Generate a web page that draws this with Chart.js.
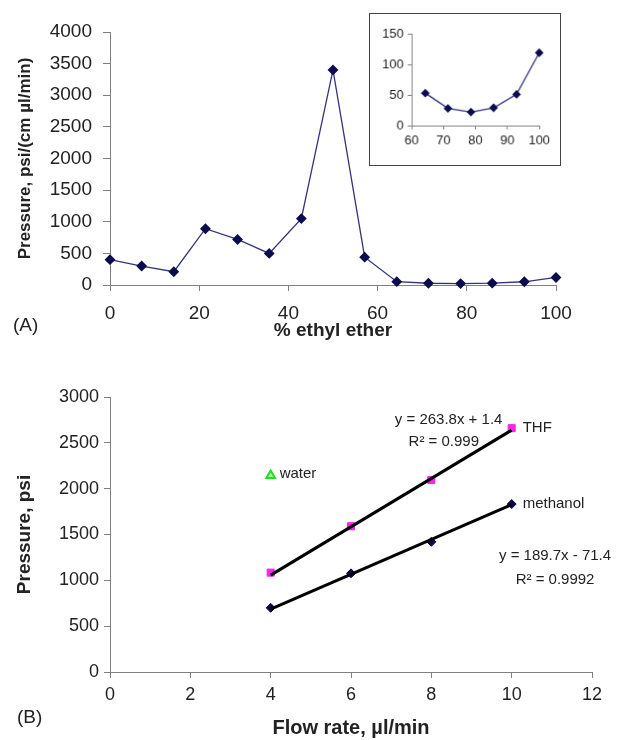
<!DOCTYPE html>
<html>
<head>
<meta charset="utf-8">
<script src="https://cdn.jsdelivr.net/npm/chart.js@4.4.1/dist/chart.umd.min.js"></script>
<style>
  body { margin: 0; background: #fff; }
  #page { position: relative; width: 617px; height: 740px; background: #fff; font-family: "Liberation Sans", Arial, sans-serif; }
  canvas { position: absolute; }
  #inset { left: 369px; top: 13px; border: 1px solid #444; background: #fff; }
  .panel { position: absolute; font-size: 19px; color: #222; }
</style>
</head>
<body>
<div id="page">
  <canvas id="topChart" width="617" height="345" style="left:0;top:0"></canvas>
  <canvas id="inset" width="192" height="153"></canvas>
  <canvas id="bottomChart" width="617" height="395" style="left:0;top:345px"></canvas>
  <div class="panel" style="left:13px;top:314px">(A)</div>
  <div class="panel" style="left:17px;top:706px">(B)</div>
</div>
<script>
// Panel A data
const etherPct = [0, 7.1, 14.3, 21.4, 28.6, 35.7, 42.9, 50, 57.1, 64.3, 71.4, 78.6, 85.7, 92.9, 100];
const pressureNorm = [400, 300, 210, 890, 720, 500, 1050, 3400, 440, 53, 28, 22, 29, 51, 119];
// inset = last six points
const insetPct = [64.3, 71.4, 78.6, 85.7, 92.9, 100];
const insetPressure = [53, 28, 22, 29, 51, 119];

// Panel B data
const flowRate = [4, 6, 8, 10];
const thfPressure = [1084, 1590, 2095, 2660];
const methanolPressure = [700, 1076, 1420, 1832];
const waterFlow = [4];
const waterPressure = [2144];
// trend line ends (y = 263.8x + 1.4, y = 189.7x - 71.4)
const trendFlow = [4, 10];
const thfTrend = [1057, 2639];
const methanolTrend = [687, 1826];

const FONT = "'Liberation Sans', Arial, sans-serif";
const axisGray = "#808080";
const textCol = "#222";
const lineBlue = "#33337f";
const markNavy = "#0b0b4f";

function pts(xs, ys) {
  return xs.map((x, i) => ({ x: x, y: ys[i] }));
}

const plain = v => String(v);

function axis(opts) {
  return Object.assign({
    type: "linear",
    border: { display: true, color: axisGray, width: 1 },
    grid: { drawOnChartArea: false, drawTicks: true, color: axisGray }
  }, opts);
}

function tick(step, size, pad) {
  return { stepSize: step, color: textCol, padding: pad, callback: plain,
    font: { family: FONT, size: size } };
}

// ---- Panel A main chart
new Chart(document.getElementById("topChart"), {
  type: "line",
  data: {
    datasets: [{
      data: pts(etherPct, pressureNorm),
      borderColor: lineBlue,
      borderWidth: 1.3,
      pointStyle: "rectRot",
      pointRadius: 4.5,
      pointBackgroundColor: markNavy,
      pointBorderColor: markNavy,
      tension: 0,
      clip: false
    }]
  },
  options: {
    responsive: false,
    animation: false,
    devicePixelRatio: 1,
    layout: { padding: { top: 32, right: 61, left: 0, bottom: 0 } },
    plugins: { legend: { display: false }, tooltip: { enabled: false } },
    scales: {
      x: axis({
        min: 0, max: 100,
        grid: { drawOnChartArea: false, color: axisGray, tickLength: 6 },
        ticks: tick(20, 19, 11),
        title: { display: true, text: "% ethyl ether", color: textCol,
          font: { family: FONT, size: 19, weight: "bold" }, padding: { bottom: 3, top: 0 } },
        afterFit: s => { s.height = 60; }
      }),
      y: axis({
        min: 0, max: 4000,
        grid: { drawOnChartArea: false, color: axisGray, tickLength: 7 },
        ticks: tick(500, 19, 11),
        title: { display: true, text: "Pressure, psi/(cm µl/min)", color: textCol,
          font: { family: FONT, size: 17, weight: "bold" }, padding: { top: 15, bottom: 0 } },
        afterFit: s => { s.width = 110; }
      })
    }
  }
});

// ---- Panel A inset
new Chart(document.getElementById("inset"), {
  type: "line",
  data: {
    datasets: [{
      data: pts(insetPct, insetPressure),
      borderColor: lineBlue,
      borderWidth: 1.3,
      pointStyle: "rectRot",
      pointRadius: 3.5,
      pointBackgroundColor: markNavy,
      pointBorderColor: markNavy,
      tension: 0,
      clip: false
    }]
  },
  options: {
    responsive: false,
    animation: false,
    devicePixelRatio: 1,
    layout: { padding: { top: 20, right: 21, left: 0, bottom: 0 } },
    plugins: { legend: { display: false }, tooltip: { enabled: false } },
    scales: {
      x: axis({
        min: 60, max: 100,
        grid: { drawOnChartArea: false, color: axisGray, tickLength: 4 },
        ticks: tick(10, 13, 4),
        afterFit: s => { s.height = 40; }
      }),
      y: axis({
        min: 0, max: 150,
        grid: { drawOnChartArea: false, color: axisGray, tickLength: 4 },
        ticks: tick(50, 13, 4),
        afterFit: s => { s.width = 42; }
      })
    }
  }
});

// ---- Panel B text labels
const labelPlugin = {
  id: "labels",
  afterDatasetsDraw(chart) {
    const ctx = chart.ctx, xs = chart.scales.x, ys = chart.scales.y;
    const px = v => xs.getPixelForValue(v), py = v => ys.getPixelForValue(v);
    ctx.save();
    ctx.fillStyle = textCol;
    ctx.font = "15px " + FONT;
    ctx.textBaseline = "middle";
    ctx.textAlign = "left";
    ctx.fillText("THF", px(flowRate[3]) + 11, py(thfPressure[3]));
    ctx.fillText("methanol", px(flowRate[3]) + 11, py(methanolPressure[3]));
    ctx.fillText("water", px(waterFlow[0]) + 9, py(waterPressure[0]) - 2);
    ctx.textAlign = "center";
    ctx.fillText("y = 263.8x + 1.4", px(8.43), py(2751));
    ctx.fillText("R² = 0.999", px(8.31), py(2507));
    ctx.fillText("y = 189.7x - 71.4", px(11.08), py(1266));
    ctx.fillText("R² = 0.9992", px(11.08), py(1005));
    ctx.restore();
  }
};

new Chart(document.getElementById("bottomChart"), {
  type: "scatter",
  data: {
    datasets: [
      { data: pts(trendFlow, thfTrend), showLine: true, borderColor: "#000", borderWidth: 3,
        pointRadius: 0, order: 0 },
      { data: pts(trendFlow, methanolTrend), showLine: true, borderColor: "#000", borderWidth: 3,
        pointRadius: 0, order: 0 },
      { data: pts(flowRate, thfPressure), pointStyle: "rect", pointRadius: 5,
        backgroundColor: "#ff22ee", borderColor: "#ff22ee", order: 1, clip: false },
      { data: pts(flowRate, methanolPressure), pointStyle: "rectRot", pointRadius: 4.5,
        backgroundColor: markNavy, borderColor: markNavy, order: 1, clip: false },
      { data: pts(waterFlow, waterPressure), pointStyle: "triangle", pointRadius: 5,
        backgroundColor: "#a8ffa8", borderColor: "#22dd22", borderWidth: 2, order: 1 }
    ]
  },
  options: {
    responsive: false,
    animation: false,
    devicePixelRatio: 1,
    layout: { padding: { top: 52, right: 25, left: 0, bottom: 0 } },
    plugins: { legend: { display: false }, tooltip: { enabled: false } },
    scales: {
      x: axis({
        min: 0, max: 12,
        grid: { drawOnChartArea: false, color: axisGray, tickLength: 6 },
        ticks: tick(2, 18, 6),
        title: { display: true, text: "Flow rate, µl/min", color: textCol,
          font: { family: FONT, size: 20, weight: "bold" }, padding: { bottom: 0, top: 0 } },
        afterFit: s => { s.height = 68; }
      }),
      y: axis({
        min: 0, max: 3000,
        grid: { drawOnChartArea: false, color: axisGray, tickLength: 6 },
        ticks: tick(500, 18, 5),
        title: { display: true, text: "Pressure, psi", color: textCol,
          font: { family: FONT, size: 19, weight: "bold" }, padding: { top: 13, bottom: 0 } },
        afterFit: s => { s.width = 110; }
      })
    }
  },
  plugins: [labelPlugin]
});
</script>
</body>
</html>
